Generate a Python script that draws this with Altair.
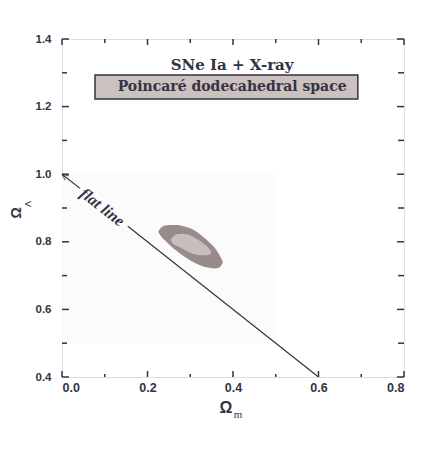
import altair as alt
import pandas as pd

# ---- data ----
x_major = [0.0, 0.2, 0.4, 0.6, 0.8]
x_minor = [0.1, 0.3, 0.5, 0.7]
y_major = [0.4, 0.6, 0.8, 1.0, 1.2, 1.4]
y_minor = [0.5, 0.7, 0.9, 1.1, 1.3]

outer_x = [0.225, 0.232, 0.240, 0.255, 0.270, 0.285, 0.300, 0.315, 0.330, 0.345, 0.358, 0.368, 0.376]
outer_hi = [0.830, 0.842, 0.848, 0.850, 0.850, 0.846, 0.840, 0.830, 0.815, 0.798, 0.781, 0.762, 0.742]
outer_lo = [0.830, 0.816, 0.805, 0.787, 0.771, 0.757, 0.745, 0.735, 0.727, 0.723, 0.721, 0.724, 0.738]

inner_x = [0.254, 0.260, 0.268, 0.280, 0.292, 0.305, 0.318, 0.330, 0.340, 0.346, 0.350]
inner_hi = [0.805, 0.815, 0.822, 0.824, 0.822, 0.816, 0.806, 0.796, 0.785, 0.776, 0.768]
inner_lo = [0.805, 0.794, 0.788, 0.781, 0.772, 0.765, 0.761, 0.760, 0.761, 0.764, 0.768]

flat_x0 = [0.0, 0.154]
flat_y0 = [1.0, 0.846]
flat_x1 = [0.042, 0.6]
flat_y1 = [0.958, 0.4]

W, H = 342, 338
INK = "#333344"
xs = alt.Scale(domain=[0, 0.8], nice=False, zero=False)
ys = alt.Scale(domain=[0.4, 1.4], nice=False, zero=False)

# background faint rectangle
bg = alt.Chart(pd.DataFrame({"x": [0.0], "x2": [0.5], "y": [0.5], "y2": [1.0]})).mark_rect(
    color="#fbfbfb").encode(
    x=alt.X("x:Q", scale=xs, axis=alt.Axis(values=x_major, format=".1f", title=None, ticks=False,
                                           domain=False, grid=False, labelPadding=4,
                                           labelFont="Liberation Sans", labelFontWeight="bold",
                                           labelFontSize=12.5, labelColor=INK)),
    x2="x2:Q",
    y=alt.Y("y:Q", scale=ys, axis=alt.Axis(values=y_major, format=".1f", title=None, ticks=False,
                                           domain=False, grid=False, labelPadding=11,
                                           labelFont="Liberation Sans", labelFontWeight="bold",
                                           labelFontSize=11.5, labelColor=INK)),
    y2="y2:Q",
)

outer = alt.Chart(pd.DataFrame({"x": outer_x, "hi": outer_hi, "lo": outer_lo})).mark_area(
    color="#978c8a", interpolate="monotone").encode(
    x=alt.X("x:Q", scale=xs), y=alt.Y("hi:Q", scale=ys), y2="lo:Q")
inner = alt.Chart(pd.DataFrame({"x": inner_x, "hi": inner_hi, "lo": inner_lo})).mark_area(
    color="#c8bebd", interpolate="monotone").encode(
    x=alt.X("x:Q", scale=xs), y=alt.Y("hi:Q", scale=ys), y2="lo:Q")

flat = alt.Chart(pd.DataFrame({"x": flat_x0, "y": flat_y0, "x2": flat_x1, "y2": flat_y1})).mark_rule(
    color=INK, strokeWidth=1.2).encode(
    x=alt.X("x:Q", scale=xs), y=alt.Y("y:Q", scale=ys), x2="x2:Q", y2="y2:Q")

arrow = alt.Chart(pd.DataFrame({"x": [0.0], "y": [1.0]})).mark_point(
    shape="M 0 0 L 2 -0.9 M 0 0 L 2 0.9", filled=False, stroke=INK, strokeWidth=1.2,
    size=40, angle=38).encode(x=alt.X("x:Q", scale=xs), y=alt.Y("y:Q", scale=ys))

flat_text = alt.Chart(pd.DataFrame({"x": [0.094], "y": [0.902], "t": ["flat line"]})).mark_text(
    font="Liberation Serif", fontWeight="bold", fontStyle="italic", fontSize=16, angle=38,
    color=INK, baseline="middle").encode(
    x=alt.X("x:Q", scale=xs), y=alt.Y("y:Q", scale=ys), text="t:N")

box = alt.Chart(pd.DataFrame({"x": [0.0772], "x2": [0.692], "y": [1.2225], "y2": [1.2935]})).mark_rect(
    fill="#cbc1bf", stroke=INK, strokeWidth=1.5).encode(
    x=alt.X("x:Q", scale=xs), x2="x2:Q", y=alt.Y("y:Q", scale=ys), y2="y2:Q")

title1 = alt.Chart(pd.DataFrame({"x": [0.398], "y": [1.323], "t": ["SNe Ia + X-ray"]})).mark_text(
    font="DejaVu Serif", fontWeight="bold", fontSize=15, color=INK, baseline="middle").encode(
    x=alt.X("x:Q", scale=xs), y=alt.Y("y:Q", scale=ys), text="t:N")
title2 = alt.Chart(pd.DataFrame({"x": [0.398], "y": [1.257], "t": ["Poincaré dodecahedral space"]})).mark_text(
    font="DejaVu Serif", fontWeight="bold", fontSize=14, color=INK, baseline="middle").encode(
    x=alt.X("x:Q", scale=xs), y=alt.Y("y:Q", scale=ys), text="t:N")

# inward ticks on four sides
def ticks_x(vals, length, top):
    df = pd.DataFrame({"v": vals})
    if top:
        yy, yy2 = alt.value(0), alt.value(length)
    else:
        yy, yy2 = alt.value(H), alt.value(H - length)
    return alt.Chart(df).mark_rule(color=INK, strokeWidth=1.5).encode(
        x=alt.X("v:Q", scale=xs), y=yy, y2=yy2)

def ticks_y(vals, length, right):
    df = pd.DataFrame({"v": vals})
    if right:
        xx, xx2 = alt.value(W), alt.value(W - length)
    else:
        xx, xx2 = alt.value(0), alt.value(length)
    return alt.Chart(df).mark_rule(color=INK, strokeWidth=1.5).encode(
        y=alt.Y("v:Q", scale=ys), x=xx, x2=xx2)

tick_layers = [
    ticks_x(x_major, 6, False), ticks_x(x_minor, 3, False),
    ticks_x(x_major, 6, True), ticks_x(x_minor, 4, True),
    ticks_y(y_major, 7, False), ticks_y(y_minor, 5, False),
    ticks_y(y_major, 7, True), ticks_y(y_minor, 6, True),
]

# axis titles with subscripts
ax_main = alt.Chart(pd.DataFrame({"t": ["Ω"]})).mark_text(
    font="Liberation Sans", fontWeight="bold", fontSize=16, color=INK, baseline="middle").encode(
    x=alt.value(164), y=alt.value(369), text="t:N")
ax_sub = alt.Chart(pd.DataFrame({"t": ["m"]})).mark_text(
    font="Liberation Serif", fontSize=11, color=INK, baseline="middle").encode(
    x=alt.value(176), y=alt.value(376), text="t:N")
ay_main = alt.Chart(pd.DataFrame({"t": ["Ω"]})).mark_text(
    font="Liberation Sans", fontWeight="bold", fontSize=14, color=INK, baseline="middle",
    angle=270).encode(x=alt.value(-45), y=alt.value(174), text="t:N")
ay_sub = alt.Chart(pd.DataFrame({"t": ["Λ"]})).mark_text(
    font="Liberation Sans", fontSize=9, color=INK, baseline="middle",
    angle=270).encode(x=alt.value(-34), y=alt.value(165), text="t:N")

chart = alt.layer(bg, outer, inner, flat, arrow, flat_text, box, title1, title2, *tick_layers,
                  ax_main, ax_sub, ay_main, ay_sub).properties(
    width=W, height=H,
    autosize=alt.AutoSizeParams(type="none"),
    padding={"left": 54, "top": 31, "right": 31, "bottom": 86},
).configure_view(stroke=INK, strokeWidth=2.2).configure(background="white")

chart.save("out.html", embed_options={"renderer": "svg", "actions": False})
